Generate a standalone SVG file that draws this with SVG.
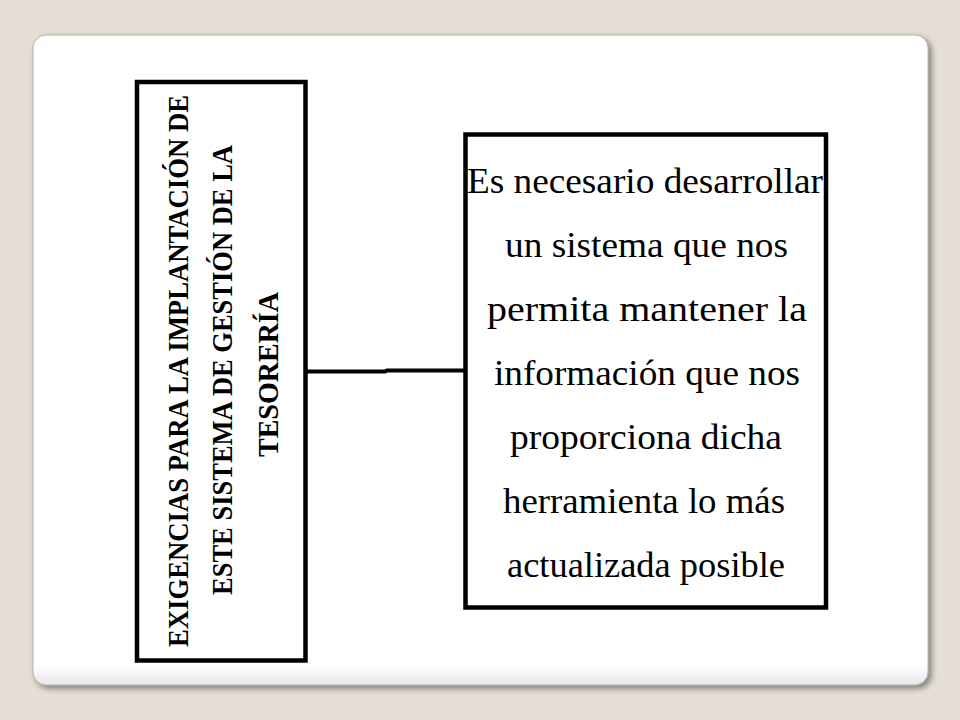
<svg xmlns="http://www.w3.org/2000/svg" width="960" height="720" viewBox="0 0 960 720">
  <defs>
    <filter id="shadow" x="-5%" y="-5%" width="110%" height="110%">
      <feGaussianBlur in="SourceAlpha" stdDeviation="3"/>
      <feOffset dx="3" dy="3" result="b"/>
      <feComponentTransfer><feFuncA type="linear" slope="0.45"/></feComponentTransfer>
      <feMerge><feMergeNode/><feMergeNode in="SourceGraphic"/></feMerge>
    </filter>
    <linearGradient id="panelGrad" x1="0" y1="0" x2="0" y2="1">
      <stop offset="0" stop-color="#ffffff"/>
      <stop offset="0.97" stop-color="#ffffff"/>
      <stop offset="1" stop-color="#e8e8ec"/>
    </linearGradient>
    <style>
      .box { fill: #ffffff; stroke: #000000; stroke-width: 4.5; }
      .vt { font-family: "Liberation Serif", "Times New Roman", serif; font-weight: bold; font-size: 30px; fill: #000; }
      .ht { font-family: "Liberation Serif", "Times New Roman", serif; font-size: 35px; fill: #000; }
      .conn { fill: none; stroke: #000; stroke-width: 4; }
    </style>
  </defs>
  <rect width="960" height="720" fill="#e4ded4"/>
  <rect x="33" y="35" width="895" height="650" rx="13" ry="13" fill="url(#panelGrad)" stroke="#a8a49c" stroke-width="0.8" filter="url(#shadow)"/>

  <g id="connectors">
    <path class="conn" d="M305,371.5 H385 L387,370.5 H465"/>
  </g>

  <g id="node-exigencias">
    <rect class="box" x="137" y="82" width="168.5" height="578.5"/>
    <text class="vt" transform="translate(188,371) rotate(-90)" x="-276" y="0" textLength="552" lengthAdjust="spacingAndGlyphs">EXIGENCIAS PARA LA IMPLANTACIÓN DE</text>
    <text class="vt" transform="translate(232,370) rotate(-90)" x="-225" y="0" textLength="450" lengthAdjust="spacingAndGlyphs">ESTE SISTEMA DE GESTIÓN DE LA</text>
    <text class="vt" transform="translate(278,374.5) rotate(-90)" x="-82.5" y="0" textLength="165" lengthAdjust="spacingAndGlyphs">TESORERÍA</text>
  </g>

  <g id="node-descripcion">
    <rect class="box" x="465.5" y="134.5" width="360.5" height="473"/>
    <text class="ht" x="467" y="193" textLength="356" lengthAdjust="spacingAndGlyphs">Es necesario  desarrollar</text>
    <text class="ht" x="505" y="257" textLength="283" lengthAdjust="spacingAndGlyphs">un sistema  que nos</text>
    <text class="ht" x="487" y="321" textLength="320" lengthAdjust="spacingAndGlyphs">permita  mantener  la</text>
    <text class="ht" x="494" y="385" textLength="306" lengthAdjust="spacingAndGlyphs">información  que nos</text>
    <text class="ht" x="510" y="449" textLength="272" lengthAdjust="spacingAndGlyphs">proporciona  dicha</text>
    <text class="ht" x="503" y="513" textLength="282" lengthAdjust="spacingAndGlyphs">herramienta  lo más</text>
    <text class="ht" x="507" y="577" textLength="278" lengthAdjust="spacingAndGlyphs">actualizada  posible</text>
  </g>
</svg>
